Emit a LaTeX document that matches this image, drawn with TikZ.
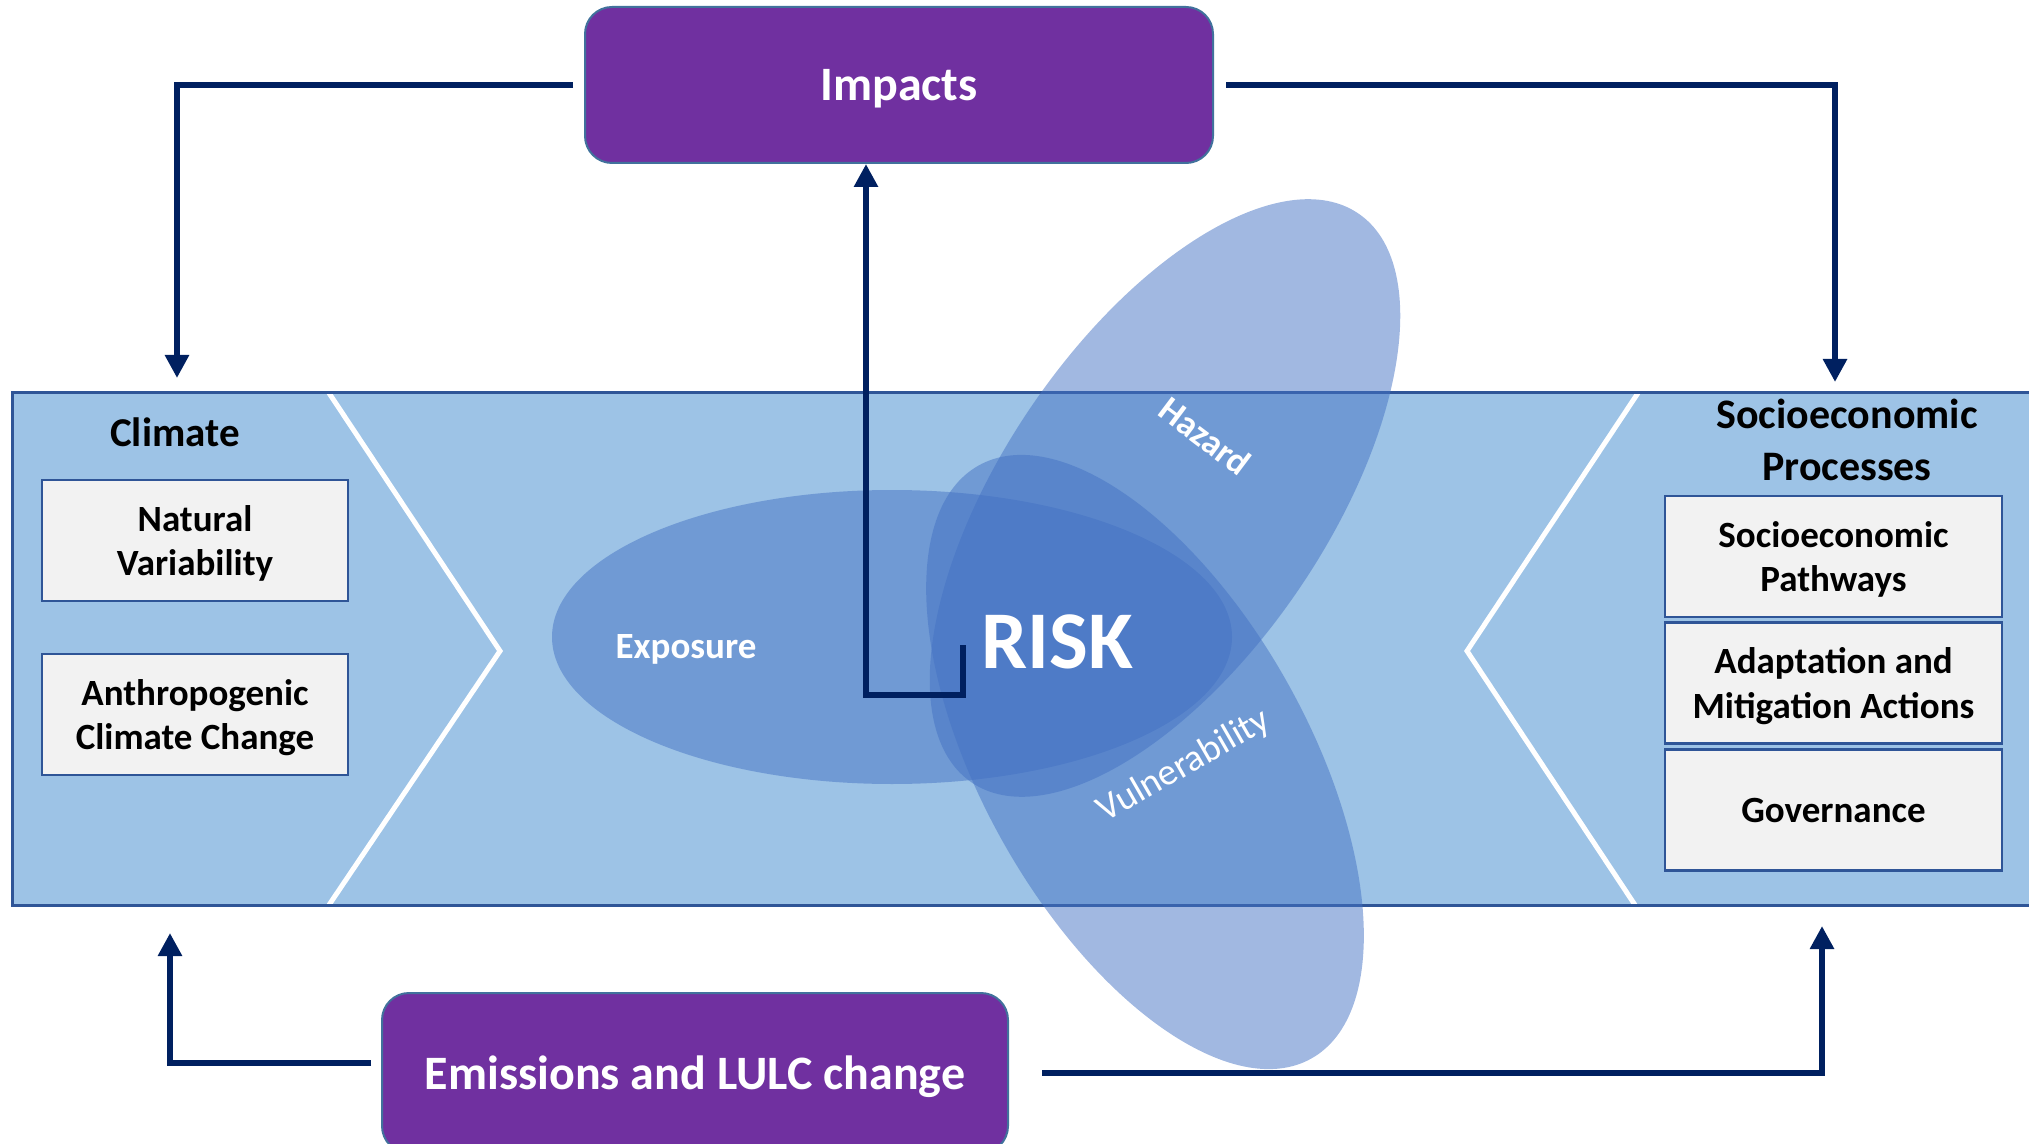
\documentclass[tikz,border=0pt]{standalone}
\usepackage{fontspec}
\setmainfont{Carlito}
\usetikzlibrary{arrows.meta}
\definecolor{navy}{HTML}{002060}
\definecolor{purp}{HTML}{7030A0}
\definecolor{purpline}{HTML}{41719C}
\definecolor{bandfill}{HTML}{9DC3E6}
\definecolor{bandline}{HTML}{2F5597}
\definecolor{boxfill}{HTML}{F2F2F2}
\definecolor{blob}{HTML}{4472C4}

\begin{document}
\begin{tikzpicture}[x=0.5pt, y=-0.5pt, % pixel grid of the figure
  greybox/.style={draw=bandline, line width=1.2pt, fill=boxfill, align=center, inner sep=0pt, text depth=0pt, font=\bfseries\fontsize{18.5}{22.3}\selectfont},
  purpbox/.style={draw=purpline, line width=1pt, fill=purp, rounded corners=13.5pt, text=white, text depth=0pt, font=\bfseries\fontsize{24}{28}\selectfont},
  blobfill/.style={fill=blob, fill opacity=0.5},
  flow/.style={draw=navy, line width=3.3pt, -{Triangle[length=11.5pt, width=11.5pt]}}
]

\useasboundingbox (0,0) rectangle (2029,1144);

% band
\fill[bandfill] (12,393) rectangle (2060,905);
\draw[white, line width=2.5pt] (329,393) -- (500,651) -- (329,905);
\draw[white, line width=2.5pt] (1638,393) -- (1467,651) -- (1635,905);
\draw[bandline, line width=1.5pt] (2060,393) -- (12,393) -- (12,905) -- (2060,905);

	\node [font=\bfseries\fontsize{20.5}{25}\selectfont, anchor=base] (clim) at (175,447) {Climate};
	\node [font=\bfseries\fontsize{21}{26}\selectfont, align=center] (socio) at (1847,440) {Socioeconomic\\Processes};

	\node [greybox, minimum width=153pt, minimum height=60.5pt] (nat) at (195,540.5) {Natural\\Variability};
	\node [greybox, minimum width=153pt, minimum height=60.5pt] (anth) at (195,714.5) {Anthropogenic\\Climate Change};

	\node [greybox, minimum width=168.5pt, minimum height=60.5pt] (ssp) at (1833.5,556.5) {Socioeconomic\\Pathways};
	\node [greybox, minimum width=168.5pt, minimum height=60.5pt] (adapt) at (1833.5,683) {Adaptation and\\Mitigation Actions};
	\node [greybox, minimum width=168.5pt, minimum height=60.5pt] (gov) at (1833.5,810) {Governance};

% the three ellipses
\fill[blobfill] (892,637) ellipse [x radius=170pt, y radius=73.5pt];
\fill[blobfill, rotate around={55.8:(1165,498)}] (1165,498) ellipse [x radius=172pt, y radius=81pt];
\fill[blobfill, rotate around={-60.7:(1145,762)}] (1145,762) ellipse [x radius=170pt, y radius=81.5pt];

	\node [text=white, font=\bfseries\fontsize{18.5}{22}\selectfont, anchor=base] (expo) at (686,658) {Exposure};
	\node [text=white, font=\bfseries\fontsize{18}{22}\selectfont, rotate=-37] (haz) at (1205,436) {Hazard};
	\node [text=white, font=\fontsize{18.8}{22}\selectfont, rotate=30] (vul) at (1184,766) {Vulnerability};
	\node [text=white, font=\bfseries\fontsize{41}{48}\selectfont] (risk) at (1057,642) {RISK};

	\node [purpbox, minimum width=314pt, minimum height=78pt] (imp) at (899,85) {Impacts};
	\node [purpbox, minimum width=313pt, minimum height=80pt] (emis) at (695,1073) {Emissions and LULC change};

\coordinate (climtop) at (177,378);
\coordinate (socitop) at (1835,382);
\coordinate (climbot) at (170,933);
\coordinate (socibot) at (1822,926);
\coordinate (hook) at (963,645);
\coordinate (bend) at (866,695);

\draw[flow] ([xshift=-5.5pt]imp.west) -| (climtop);
\draw[flow] ([xshift=6pt]imp.east) -| (socitop);
\draw[flow] ([shift={(-5pt,5pt)}]emis.west) -| (climbot);
\draw[flow] ([xshift=16.5pt]emis.east) -| (socibot);
\draw[flow] (hook) |- (bend) -- (bend |- imp.south);

\end{tikzpicture}
\end{document}
